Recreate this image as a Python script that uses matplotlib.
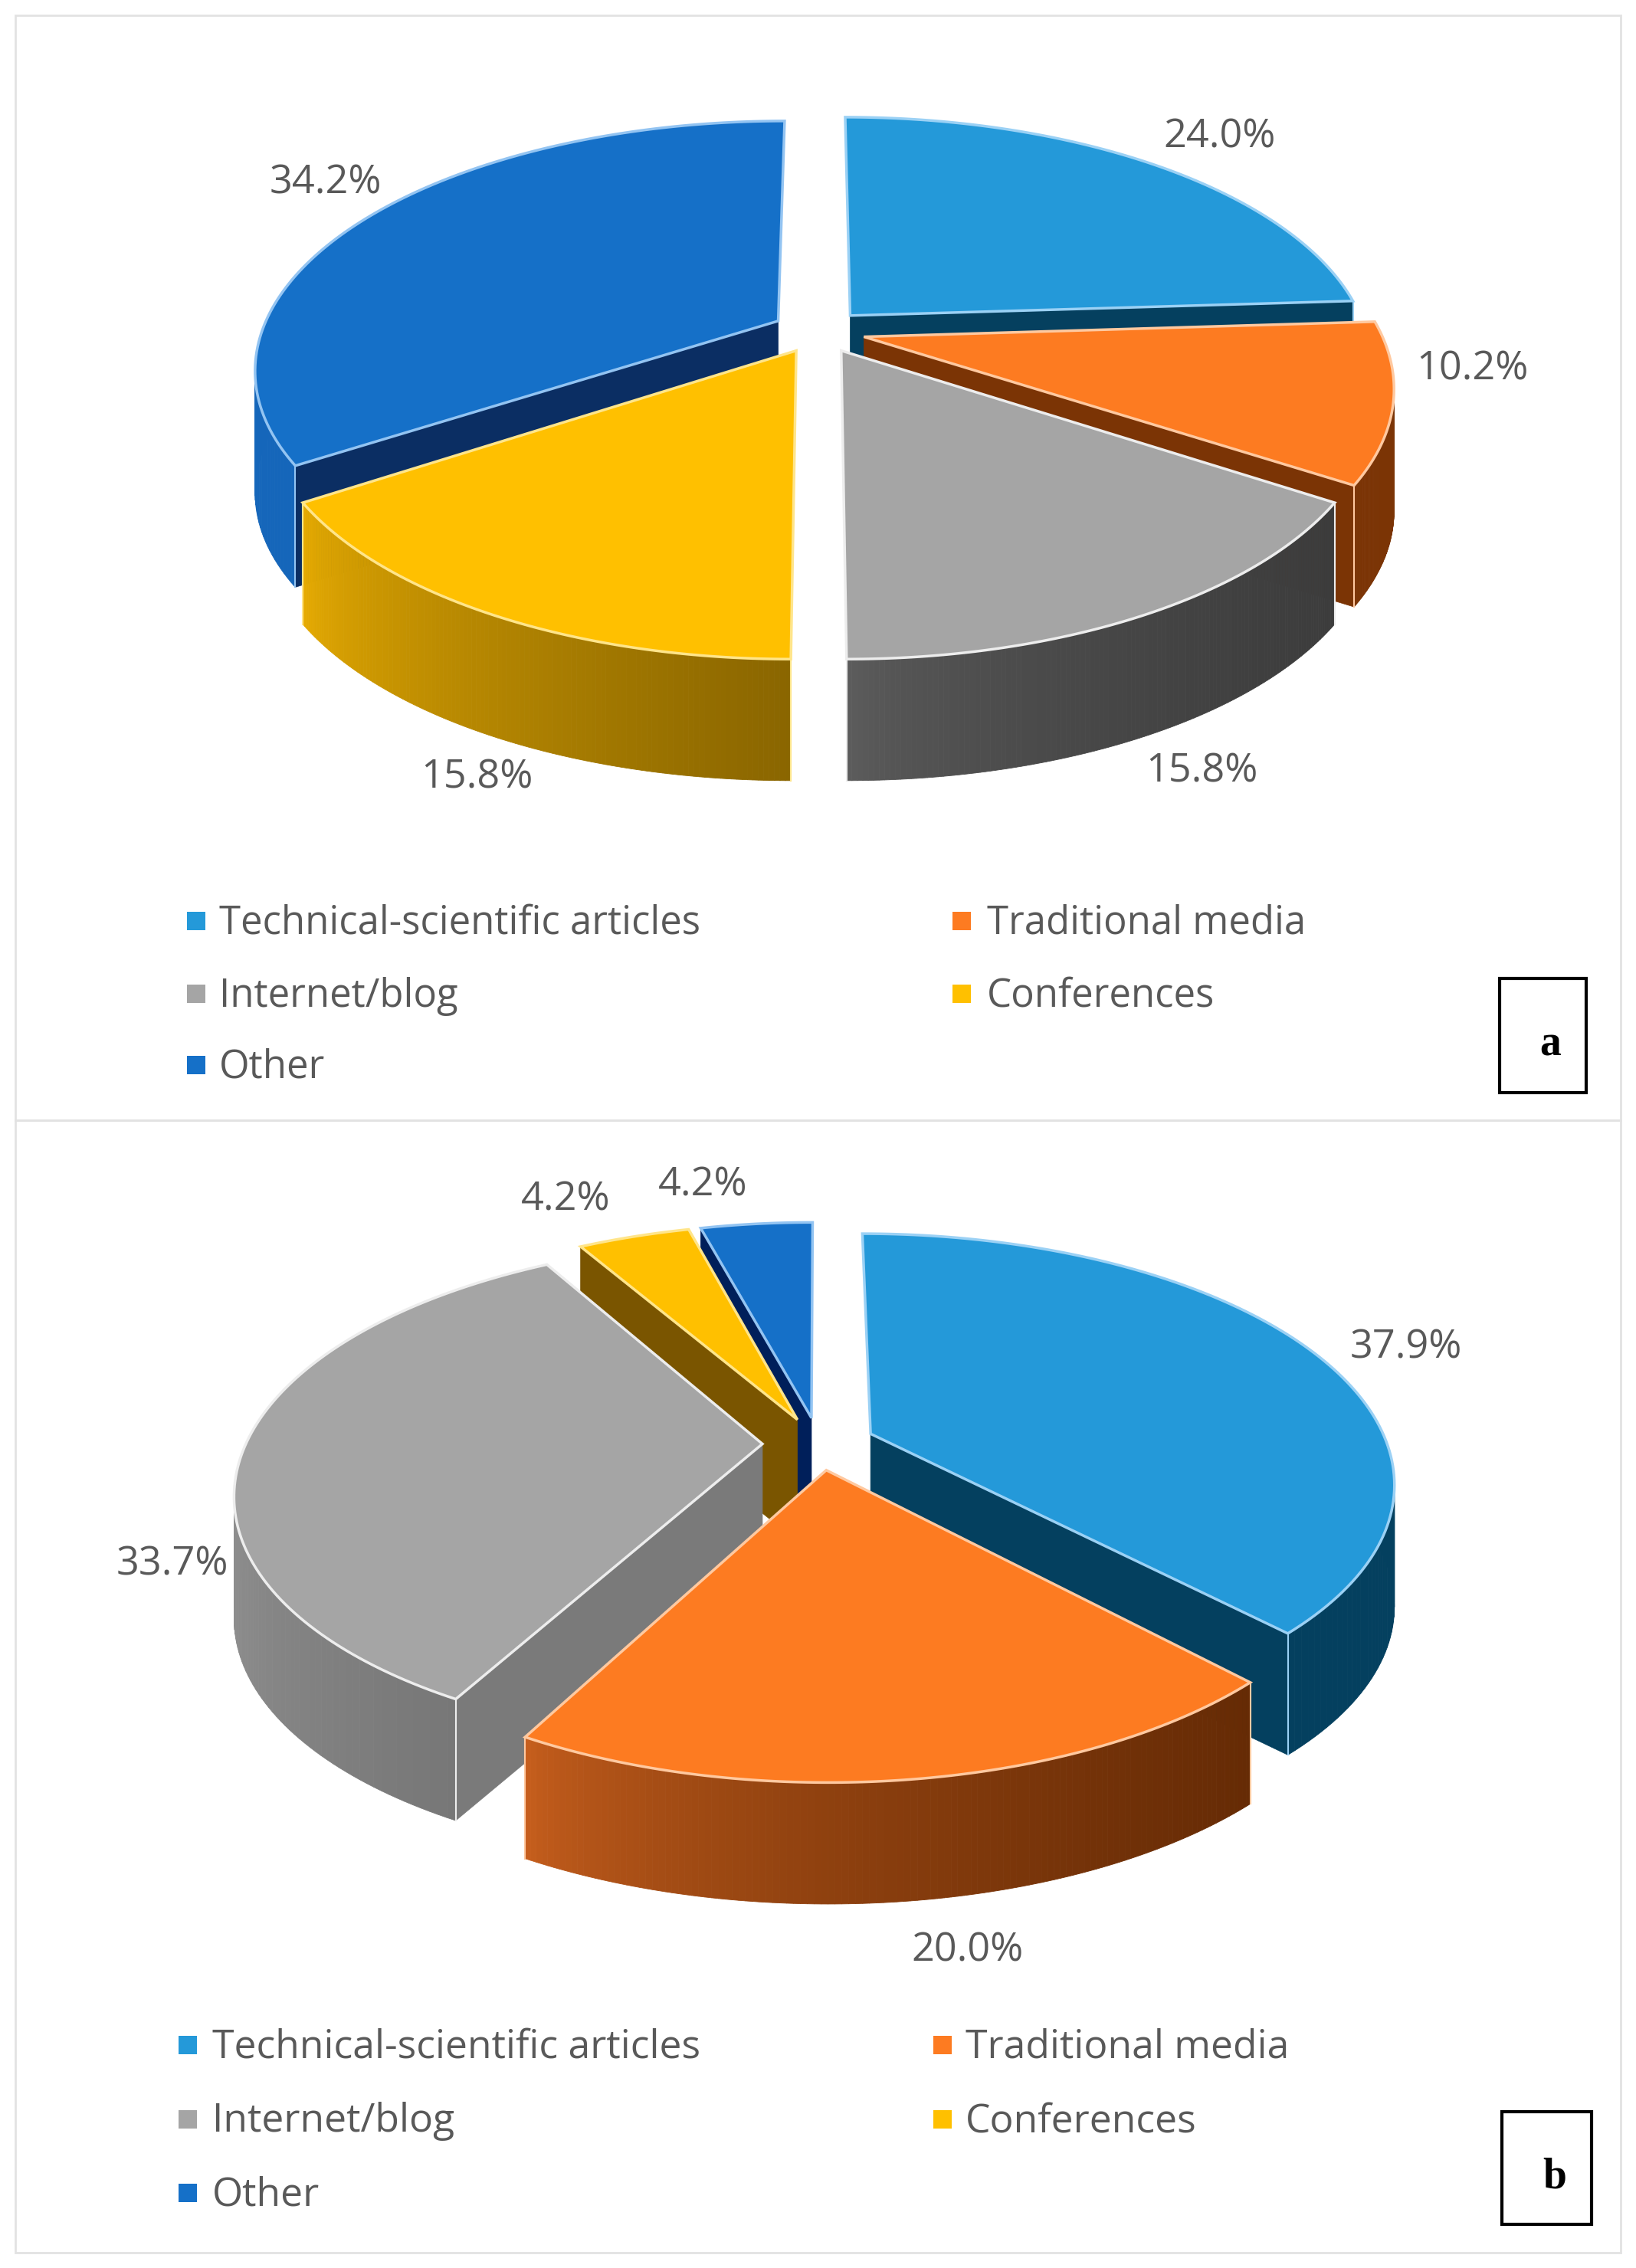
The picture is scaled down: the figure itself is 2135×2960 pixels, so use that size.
import numpy as np
import matplotlib
matplotlib.use('Agg')
from matplotlib import pyplot as plt
from matplotlib.colors import to_rgb
from matplotlib.patches import Polygon, Rectangle

## chart values
categories = ['Technical-scientific articles', 'Traditional media', 'Internet/blog', 'Conferences', 'Other']
values_a = [24.0, 10.2, 15.8, 15.8, 34.2]
values_b = [37.9, 20.0, 33.7, 4.2, 4.2]

## slice styles
top_colors = ['#2499D9', '#FD7B21', '#A5A5A5', '#FFC000', '#1570C8']
edge_colors = ['#9BD1F5', '#FFC9A0', '#EDEDED', '#FFE58A', '#93C4F2']

cut_a = ['#05405F', '#7B3405', '#3E3E3E', '#8F6A00', '#0B2E63']
rim_a = [('#05405F', '#05405F'), ('#7B3405', '#7B3405'), ('#5E5E5E', '#3C3C3C'),
         ('#EAAE02', '#8A6600'), ('#1566BA', '#1566BA')]
cut_b = ['#04405F', '#7B3405', '#7A7A7A', '#7A5500', '#001F5A']
rim_b = [('#04405F', '#04405F'), ('#CB611E', '#662B05'), ('#8E8E8E', '#777777'),
         ('#7A5500', '#7A5500'), ('#001F5A', '#001F5A')]

S = 2135 / 1131  # pictures were measured on the shrunk reference

fig = plt.figure(figsize=(21.35, 29.6), dpi=100)
ax = fig.add_axes([0, 0, 1, 1])
ax.set_xlim(0, 2135)
ax.set_ylim(2960, 0)
ax.axis('off')


def pie3d(values, cx, cy, R, Rt, k, depth, explode, cuts, rims):
    def project(u, v):
        s = 1 / (1 + k * v)
        return np.column_stack([cx + R * u * s, cy - Rt * v * s])

    angles = np.cumsum([0] + list(values)) / sum(values) * 2 * np.pi
    mids = (angles[:-1] + angles[1:]) / 2
    down = np.array([0, depth])

    # back slices first
    for n, i in enumerate(np.argsort(-np.cos(mids))):
        z = 2 + 0.01 * n
        ex, ey = explode * np.sin(mids[i]), explode * np.cos(mids[i])
        th = np.linspace(angles[i], angles[i + 1], 120)
        arc = project(np.sin(th) + ex, np.cos(th) + ey)
        apex = project(np.array([ex]), np.array([ey]))

        # radial cut faces, only those turned to the viewer
        if np.sin(th[0]) < -1e-6:
            quad = np.array([apex[0], arc[0], arc[0] + down, apex[0] + down])
            ax.add_patch(Polygon(quad, fc=cuts[i], ec=cuts[i], lw=0.5, zorder=z))
        if np.sin(th[-1]) > 1e-6:
            quad = np.array([apex[0], arc[-1], arc[-1] + down, apex[0] + down])
            ax.add_patch(Polygon(quad, fc=cuts[i], ec=cuts[i], lw=0.5, zorder=z))

        # outer wall in small steps so the colour can run across it
        c0, c1 = np.array(to_rgb(rims[i][0])), np.array(to_rgb(rims[i][1]))
        front = np.cos(th) < 0.15
        if front.any():
            xs = arc[front, 0]
            for j in range(len(arc) - 1):
                if not (front[j] and front[j + 1]):
                    continue
                f = ((arc[j, 0] - xs.min()) / max(xs.max() - xs.min(), 1)) ** 0.6
                col = c0 + (c1 - c0) * f
                quad = np.array([arc[j], arc[j + 1], arc[j + 1] + down, arc[j] + down])
                ax.add_patch(Polygon(quad, fc=col, ec=col, lw=0.6, zorder=z))
            for end in [0, -1]:
                if front[end]:
                    p = arc[end]
                    ax.plot([p[0], p[0]], [p[1], p[1] + depth], color=edge_colors[i], lw=1.5, zorder=z)

        top = np.vstack([apex, arc])
        ax.add_patch(Polygon(top, fc=top_colors[i], ec=edge_colors[i], lw=2.5, joinstyle='miter', zorder=z))


def labels(values, spots):
    for v, (x, y) in zip(values, spots):
        ax.text(x * S, y * S + 3, f'{v:.1f}%', fontsize=37.5, color='#595959', family='Open Sans',
                ha='center', va='center')


def legend(x_marks, x_texts, rows, size):
    slots = [(0, 0), (1, 0), (0, 1), (1, 1), (0, 2)]
    for i, (col, row) in enumerate(slots):
        ax.add_patch(Rectangle((x_marks[col] - 12, rows[row] - 12), 24, 24, fc=top_colors[i], ec='none'))
        ax.text(x_texts[col], rows[row] + 3, categories[i], fontsize=size, color='#595959',
                family='Open Sans', ha='left', va='center')


def letter(text, x0, y0, x1, y1):
    ax.add_patch(Rectangle((x0, y0), x1 - x0, y1 - y0, fc='white', ec='black', lw=3, zorder=3))
    ax.text((x0 + x1) / 2 + 10, (y0 + y1) / 2 + 12, text, fontsize=40, fontweight='bold', family='Liberation Serif',
            color='black', ha='center', va='center', zorder=4)


## frames
ax.add_patch(Rectangle((20, 20), 2095, 1442, fc='none', ec='#E2E2E2', lw=2))
ax.add_patch(Rectangle((20, 1462), 2095, 1478, fc='none', ec='#E2E2E2', lw=2))

## panel a
pie3d(values_a, 566 * S, 229 * S, 357 * S, 167 * S, 0.19, 84 * S, 0.09, cut_a, rim_a)
labels(values_a, [(843, 93), (1018, 254), (831, 532), (330, 536), (225, 125)])
legend([256, 1255], [286, 1288], [1202, 1297, 1390], 36.6)
letter('a', 1957, 1277, 2070, 1426)

## panel b
pie3d(values_b, 566 * S, 998 * S, 357 * S, 167 * S, 0.19, 84 * S, 0.109, cut_b, rim_b)
labels(values_b, [(972, 930), (669, 1347), (119, 1080), (391, 828), (486, 818)])
legend([245, 1230], [277, 1260], [2669, 2766, 2862], 37.2)
letter('b', 1960, 2756, 2077, 2903)

fig.savefig('out.png', dpi=100, facecolor='white')
